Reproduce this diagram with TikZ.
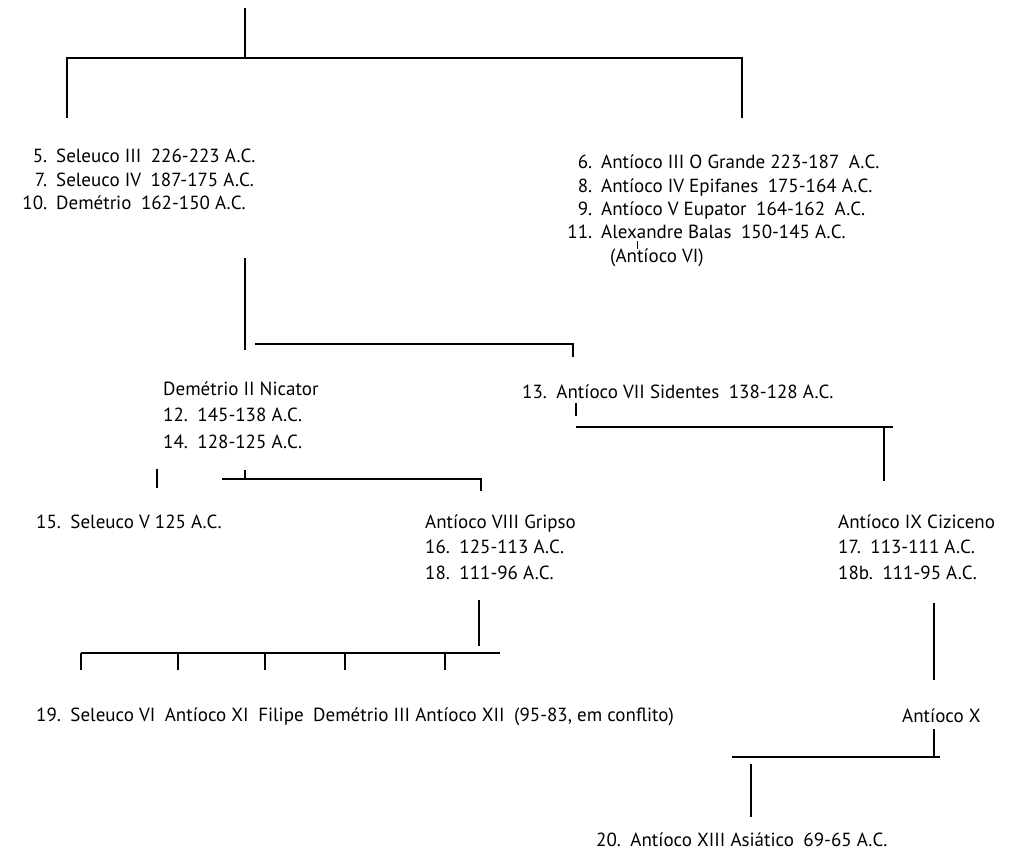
\documentclass[tikz,border=0pt]{standalone}
\usepackage{fontspec}
\setmainfont{PT Sans}
\newcommand{\nr}[1]{\makebox[24pt][r]{#1}\hspace{9pt}}
\newcommand{\gap}{\hspace{0.5em}}
\begin{document}
\begin{tikzpicture}[x=1pt,y=-1pt,
  rei/.style={anchor=base west, inner sep=0pt, font=\fontsize{19}{22}\selectfont},
  ramo/.style={line width=1.9pt},
  barra/.style={line width=2.3pt}]
\useasboundingbox (0,0) rectangle (1014,859);

% First split
\coordinate (raiz) at (245,8);
\coordinate (raizB) at (245,58);
\coordinate (barE) at (67,58);
\coordinate (barD) at (742,58);
\coordinate (ramoE) at (67,118);
\coordinate (ramoD) at (742,118);
\draw[ramo] (raiz) -- (raizB);
\draw[barra] (ramoE) -- (barE) -- (barD) -- (ramoD);

% Left branch
\node[rei] (s3) at (23,162) {\nr{5.}Seleuco III\gap226-223 A.C.};
\node[rei] (s4) at (23,186) {\nr{7.}Seleuco IV\gap187-175 A.C.};
\node[rei] (dm) at (23,209) {\nr{10.}Demétrio\gap162-150 A.C.};

% Right branch
\node[rei] (a3) at (568,168) {\nr{6.}Antíoco III O Grande 223-187\gap A.C.};
\node[rei] (a4) at (568,192) {\nr{8.}Antíoco IV Epifanes\gap175-164 A.C.};
\node[rei] (a5) at (568,215) {\nr{9.}Antíoco V Eupator\gap164-162\gap A.C.};
\node[rei] (ab) at (568,238) {\nr{11.}Alexandre Balas\gap150-145 A.C.};
\node[rei] (a6) at (610,262) {(Antíoco VI)};
\coordinate (abT) at (637,241);
\coordinate (abB) at (637,249);
\draw[line width=1pt] (abT) -- (abB);

% Demetrio to his sons
\coordinate (dmD) at (245,258);
\coordinate (dmB) at (245,350);
\draw[ramo] (dmD) -- (dmB);
\coordinate (b2E) at (255,344);
\coordinate (b2D) at (573,344);
\coordinate (b2F) at (573,357);
\draw[barra] (b2E) -- (b2D) -- (b2F);

\node[rei] (d2) at (163,395) {Demétrio II Nicator};
\node[rei] (d2a) at (163,421) {12.\gap145-138 A.C.};
\node[rei] (d2b) at (163,448) {14.\gap128-125 A.C.};
\node[rei] (a7) at (522,398) {13.\gap Antíoco VII Sidentes\gap138-128 A.C.};

% Antioco VII to Antioco IX
\coordinate (a7T) at (576,403);
\coordinate (a7B) at (576,416);
\draw[ramo] (a7T) -- (a7B);
\coordinate (b3E) at (576,427);
\coordinate (b3D) at (893,427);
\coordinate (b3T) at (884,427);
\coordinate (b3F) at (884,481);
\draw[barra] (b3E) -- (b3D);
\draw[ramo] (b3T) -- (b3F);

% Demetrio II to his sons
\coordinate (s5T) at (157,469);
\coordinate (s5B) at (157,488);
\draw[ramo] (s5T) -- (s5B);
\coordinate (d2T) at (245,470);
\coordinate (d2B) at (245,479);
\draw[ramo] (d2T) -- (d2B);
\coordinate (b4E) at (222,479);
\coordinate (b4D) at (481,479);
\coordinate (b4F) at (481,491);
\draw[barra] (b4E) -- (b4D) -- (b4F);

\node[rei] (s5) at (36,528) {15.\gap Seleuco V 125 A.C.};
\node[rei] (a8) at (425,528) {Antíoco VIII Gripso};
\node[rei] (a8a) at (425,553) {16.\gap125-113 A.C.};
\node[rei] (a8b) at (425,579) {18.\gap111-96 A.C.};
\node[rei] (a9) at (838,528) {Antíoco IX Ciziceno};
\node[rei] (a9a) at (838,553) {17.\gap113-111 A.C.};
\node[rei] (a9b) at (838,579) {18b.\gap111-95 A.C.};

% Sons of Antioco VIII
\coordinate (a8T) at (479,600);
\coordinate (a8B) at (479,646);
\draw[ramo] (a8T) -- (a8B);
\coordinate (b5E) at (81,653);
\coordinate (b5D) at (500,653);
\draw[barra] (b5E) -- (b5D);
\foreach \xf in {81,178,265,345,445}
  \draw[ramo] (\xf,653) -- (\xf,670);
\node[rei] (fil) at (36,721) {19.\gap Seleuco VI\gap Antíoco XI\gap Filipe\gap Demétrio III Antíoco XII\gap(95-83, em conflito)};

% Antioco IX to Antioco X
\coordinate (a9T) at (934,603);
\coordinate (a9B) at (934,680);
\draw[ramo] (a9T) -- (a9B);
\node[rei] (a10) at (902,722) {Antíoco X};
\coordinate (a10T) at (934,729);
\coordinate (a10B) at (934,757);
\draw[ramo] (a10T) -- (a10B);
\coordinate (b6E) at (732,757);
\coordinate (b6D) at (940,757);
\draw[barra] (b6E) -- (b6D);
\coordinate (a13T) at (751,764);
\coordinate (a13B) at (751,817);
\draw[ramo] (a13T) -- (a13B);
\node[rei] (a13) at (596,846) {20.\gap Antíoco XIII Asiático\gap69-65 A.C.};

\end{tikzpicture}
\end{document}
